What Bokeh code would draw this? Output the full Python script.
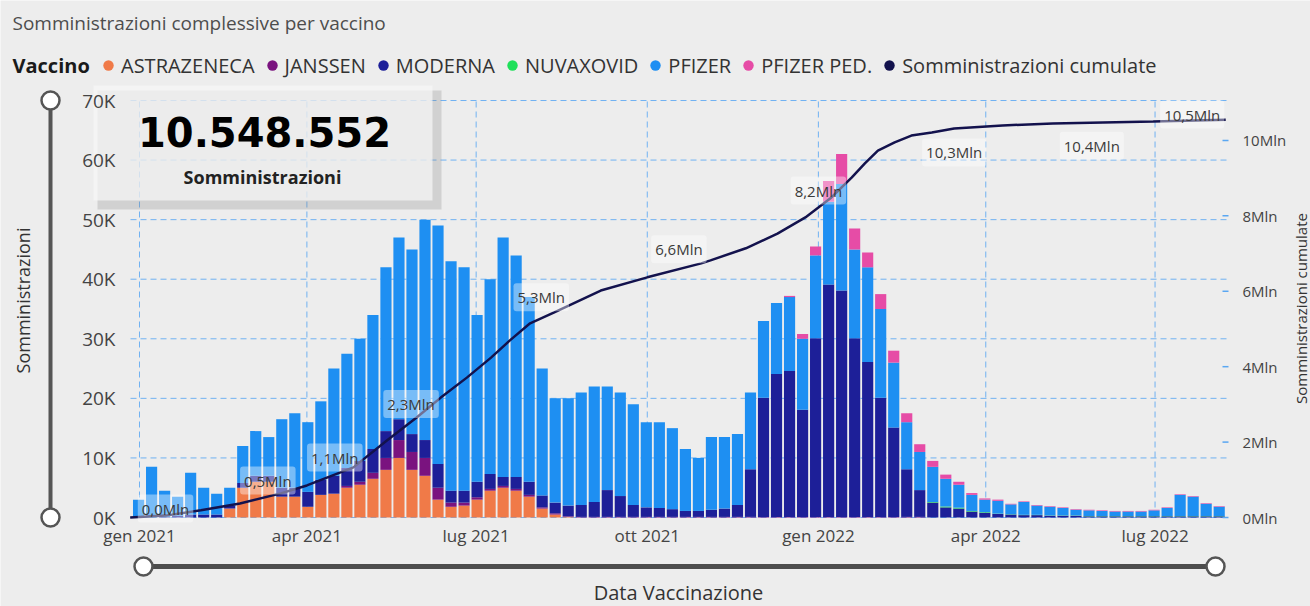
import math
import numpy as np
import pandas as pd
from bokeh.plotting import figure
from bokeh.models import Range1d, Legend, LegendItem, Label, ColumnDataSource
from bokeh.core.properties import value
from bokeh.embed import file_html
from bokeh.resources import INLINE

# ---------------- data (doses per day, one value per week) ----------------
vaccines = ["ASTRAZENECA", "JANSSEN", "MODERNA", "NUVAXOVID", "PFIZER", "PFIZER PED."]
week_start = pd.date_range("2020-12-28", periods=84, freq="7D")

astrazeneca = [0, 0, 0, 0, 0, 0, 0, 1500, 5000, 6000, 6000, 3500,
               3500, 1800, 3800, 4000, 5000, 5500, 6500, 8000, 10000, 8000, 7000, 3000,
               1800, 2000, 3000, 4500, 5000, 4500, 3500, 1500, 500, 100, 0, 0,
               0, 0, 0, 0, 0, 0, 0, 0, 0, 0, 0, 0,
               0, 0, 0, 0, 0, 0, 0, 0, 0, 0, 0, 0,
               0, 0, 0, 0, 0, 0, 0, 0, 0, 0, 0, 0,
               0, 0, 0, 0, 0, 0, 0, 0, 0, 0, 0, 0]
janssen = [0, 0, 0, 0, 0, 0, 0, 0, 0, 0, 0, 0,
           0, 0, 0, 0, 300, 500, 1000, 2000, 3000, 3000, 3000, 2000,
           700, 500, 400, 300, 300, 300, 300, 200, 200, 100, 100, 100,
           100, 100, 100, 100, 100, 100, 100, 100, 100, 100, 100, 100,
           100, 100, 100, 100, 100, 100, 100, 100, 100, 100, 100, 100,
           100, 0, 0, 0, 0, 0, 0, 0, 0, 0, 0, 0,
           0, 0, 0, 0, 0, 0, 0, 0, 0, 0, 0, 0]
moderna = [0, 0, 100, 300, 500, 500, 500, 500, 800, 1000, 1000, 1500,
           1500, 2500, 2500, 3000, 3000, 3500, 4000, 4500, 3500, 3000, 3000, 4000,
           2000, 2000, 2600, 2500, 1500, 2000, 2200, 2000, 1800, 1800, 2000, 2500,
           4500, 3500, 2000, 1600, 1500, 1300, 1000, 1000, 1200, 1400, 2000, 8000,
           20000, 24000, 24500, 18000, 30000, 39000, 38000, 30000, 26000, 20000, 15000, 8000,
           4500, 2500, 1700, 1500, 1000, 800, 600, 500, 400, 400, 300, 300,
           300, 200, 200, 200, 200, 200, 200, 200, 200, 200, 200, 200]
nuvaxovid = [0, 0, 0, 0, 0, 0, 0, 0, 0, 0, 0, 0,
             0, 0, 0, 0, 0, 0, 0, 0, 0, 0, 0, 0,
             0, 0, 0, 0, 0, 0, 0, 0, 0, 0, 0, 0,
             0, 0, 0, 0, 0, 0, 0, 0, 0, 0, 0, 0,
             0, 0, 0, 0, 0, 0, 0, 0, 0, 0, 0, 0,
             0, 100, 150, 150, 100, 100, 50, 50, 50, 50, 50, 50,
             50, 50, 50, 50, 50, 50, 50, 50, 50, 50, 50, 50]
pfizer = [3000, 8500, 4400, 3200, 7000, 4500, 3500, 3000, 6200, 7500, 6500, 11500,
          12500, 11700, 13200, 18000, 19200, 20500, 22500, 27500, 30500, 31000, 37000, 40000,
          38500, 37500, 28000, 32700, 40200, 37200, 31000, 21300, 17500, 18000, 18900, 19400,
          17400, 17400, 16900, 14300, 14400, 13600, 10400, 8900, 12200, 12000, 11900, 12900,
          12900, 11900, 12400, 11900, 13900, 13900, 17900, 14900, 15900, 14900, 10900, 7900,
          6400, 5900, 4650, 3850, 2700, 2100, 2150, 1650, 2150, 1550, 1450, 1250,
          950, 950, 850, 750, 750, 750, 950, 1350, 3550, 3250, 2050, 1550]
pfizer_ped = [0, 0, 0, 0, 0, 0, 0, 0, 0, 0, 0, 0,
              0, 0, 0, 0, 0, 0, 0, 0, 0, 0, 0, 0,
              0, 0, 0, 0, 0, 0, 0, 0, 0, 0, 0, 0,
              0, 0, 0, 0, 0, 0, 0, 0, 0, 0, 0, 0,
              0, 0, 200, 800, 1500, 3500, 5000, 3500, 2500, 2500, 2000, 1500,
              1300, 1000, 700, 500, 300, 200, 200, 100, 100, 100, 100, 100,
              100, 100, 100, 100, 100, 100, 100, 100, 100, 100, 100, 100]

# cumulative administrations (millions)
cum_dates = ["2020-12-27", "2021-01-15", "2021-02-03", "2021-02-24", "2021-03-18", "2021-04-01",
             "2021-04-26", "2021-05-14", "2021-05-30", "2021-06-12", "2021-06-26", "2021-07-09",
             "2021-07-19", "2021-07-30", "2021-08-12", "2021-09-06", "2021-10-01", "2021-10-30",
             "2021-11-04", "2021-11-23", "2021-12-10", "2021-12-25", "2022-01-01", "2022-01-08",
             "2022-01-19", "2022-01-26", "2022-02-02", "2022-02-11", "2022-02-20", "2022-03-03",
             "2022-03-15", "2022-04-10", "2022-05-07", "2022-06-30", "2022-08-08"]
cum_values = [0.0, 0.05, 0.19, 0.37, 0.64, 0.85,
              1.33, 2.04, 2.65, 3.18, 3.71, 4.24,
              4.69, 5.15, 5.44, 6.02, 6.37, 6.74,
              6.82, 7.14, 7.53, 7.96, 8.22, 8.49,
              9.02, 9.39, 9.73, 9.95, 10.13, 10.21,
              10.32, 10.40, 10.45, 10.50, 10.55]

cum_label_dates = ["2021-01-15", "2021-03-11", "2021-04-16", "2021-05-27", "2021-08-05",
                   "2021-10-18", "2022-01-01", "2022-03-15", "2022-05-28", "2022-07-21"]
cum_label_texts = ["0,0Mln", "0,5Mln", "1,1Mln", "2,3Mln", "5,3Mln",
                   "6,6Mln", "8,2Mln", "10,3Mln", "10,4Mln", "10,5Mln"]

x_tick_dates = ["2021-01-01", "2021-04-01", "2021-07-01", "2021-10-01",
                "2022-01-01", "2022-04-01", "2022-07-01"]
x_tick_labels = ["gen 2021", "apr 2021", "lug 2021", "ott 2021",
                 "gen 2022", "apr 2022", "lug 2022"]
y_ticks = [0, 10000, 20000, 30000, 40000, 50000, 60000, 70000]
y_tick_labels = ["0K", "10K", "20K", "30K", "40K", "50K", "60K", "70K"]
y2_ticks = [0, 2000000, 4000000, 6000000, 8000000, 10000000]
y2_tick_labels = ["0Mln", "2Mln", "4Mln", "6Mln", "8Mln", "10Mln"]
total_doses = "10.548.552"
title_text = "Somministrazioni complessive per vaccino"

# ---------------- styles / geometry ----------------
colors = ["#F07A48", "#7A137F", "#1D1F98", "#1FE05A", "#1E8FF2", "#E64CA6"]
cum_color = "#13124D"
grid_color = "#5AA7F2"
BG = "#EDEDED"
FONT = "Open Sans"
W, H = 1310, 606
DAY = 86400000.0
# plot area inside the canvas (pixels, y from top)
PL, PR, PT, PB = 130, 1228, 100, 517


def ms(d):
    return pd.Timestamp(d).value / 1e6


x_start = ms("2021-01-01") - 4.84 * DAY
x_end = ms("2021-01-01") + 585.5 * DAY
Y_MAX = 70000.0
C_MAX = 11.06e6

kx = (x_end - x_start) / (PR - PL)
ky = Y_MAX / (PB - PT)
kc = C_MAX / (PB - PT)

p = figure(width=W, height=H, output_backend="svg", toolbar_location=None,
           x_axis_type=None, y_axis_type=None, min_border=0,
           x_range=Range1d(x_start - PL * kx, x_end + (W - PR) * kx),
           y_range=Range1d(-(H - PB) * ky, Y_MAX + PT * ky))
p.extra_x_ranges = {"px": Range1d(0, W)}
p.extra_y_ranges = {"px": Range1d(H, 0),
                    "cum": Range1d(-(H - PB) * kc, C_MAX + PT * kc)}
p.background_fill_color = BG
p.border_fill_color = BG
p.outline_line_color = None


def txt(x, y, text, size, color="#333333", align="left", baseline="middle",
        style="normal", font=FONT, angle=0.0, xr="px", yr="px"):
    p.text(x=x, y=y, text=text, x_range_name=xr, y_range_name=yr,
           text_font=value(font), text_font_size=value(size), text_font_style=style,
           text_color=color, text_align=align, text_baseline=baseline, angle=angle)


# ---------------- dashed grid ----------------
xt = [ms(d) for d in x_tick_dates]
p.segment(x0=[x_start] * len(y_ticks), x1=[x_end] * len(y_ticks), y0=y_ticks, y1=y_ticks,
          line_color=grid_color, line_dash="6 4", line_width=1, line_alpha=0.85)
p.segment(x0=xt, x1=xt, y0=[0] * len(xt), y1=[Y_MAX] * len(xt),
          line_color=grid_color, line_dash="6 4", line_width=1, line_alpha=0.85)

# ---------------- card (under the bars) ----------------
p.quad(left=[97], right=[441], top=[90], bottom=[209], x_range_name="px", y_range_name="px",
       fill_color="#8A8A8A", fill_alpha=0.28, line_color=None)
p.quad(left=[93], right=[432], top=[85], bottom=[200], x_range_name="px", y_range_name="px",
       fill_color="#F7F7F7", fill_alpha=0.72, line_color=None)

# ---------------- stacked bars ----------------
keys = ["astrazeneca", "janssen", "moderna", "nuvaxovid", "pfizer", "pfizer_ped"]
src = ColumnDataSource(dict(
    x=[ms(d) + 3.5 * DAY for d in week_start],
    astrazeneca=astrazeneca, janssen=janssen, moderna=moderna,
    nuvaxovid=nuvaxovid, pfizer=pfizer, pfizer_ped=pfizer_ped))
p.vbar_stack(keys, x="x", width=6.0 * DAY, fill_color=colors, line_color=None, source=src)

# ---------------- cumulative line ----------------
cum_x = [ms(d) for d in cum_dates]
cum_y = [v * 1e6 for v in cum_values]
p.line(x=cum_x, y=cum_y, y_range_name="cum", line_color=cum_color, line_width=2.5)

label_offsets = [7, 16, 17, 18, 21, 20, 17, -24, -23, 6]
for d, t, off in zip(cum_label_dates, cum_label_texts, label_offsets):
    lx = ms(d)
    ly = float(np.interp(lx, cum_x, cum_y))
    p.add_layout(Label(x=lx, y=ly, y_range_name="cum", text=t, y_offset=off,
                       text_align="center", text_baseline="middle", text_font=FONT,
                       text_font_size="15px", text_color="#3A3A3A",
                       background_fill_color="white", background_fill_alpha=0.4,
                       padding=4, border_radius=3))

# ---------------- axes (tick labels and titles) ----------------
txt([PL - 15] * len(y_ticks), y_ticks, y_tick_labels, "19px", color="#444444",
    align="right", yr="default")
txt(xt, [535] * len(xt), x_tick_labels, "17px", color="#444444", align="center",
    xr="default")
txt([PR + 14] * len(y2_ticks), y2_ticks, y2_tick_labels, "15px", color="#444444",
    yr="cum")
p.segment(x0=[PR - 6] * len(y2_ticks), x1=[PR] * len(y2_ticks), y0=y2_ticks, y1=y2_ticks,
          x_range_name="px", y_range_name="cum", line_color=grid_color, line_width=1.5)
txt([22], [300], ["Somministrazioni"], "18px", align="center", angle=math.pi / 2)
txt([1300], [308], ["Somministrazioni cumulate"], "15px", align="center", angle=math.pi / 2)
txt([678], [592], ["Data Vaccinazione"], "20px", align="center")

# ---------------- title, legend ----------------
txt([12], [22], [title_text], "19px", color="#4D4D4D")
txt([12], [65], ["Vaccino"], "20px", color="#1A1A1A", style="bold")

legend_items = []
for name, col in zip(vaccines + ["Somministrazioni cumulate"], colors + [cum_color]):
    r = p.scatter(x=[np.nan], y=[np.nan], marker="circle", size=11,
                  fill_color=col, line_color=None)
    legend_items.append(LegendItem(label=name, renderers=[r]))
legend = Legend(items=legend_items, location=(95, H - 78.5), orientation="horizontal",
                glyph_width=26, glyph_height=26, label_standoff=0, spacing=4,
                padding=0, margin=0, label_text_font=FONT, label_text_font_size="20px",
                label_text_color="#333333", background_fill_alpha=0,
                border_line_color=None)
p.add_layout(legend)

# ---------------- card texts ----------------
txt([264], [131], [total_doses], "40px", color="#000000", align="center",
    style="bold", font="DejaVu Sans")
txt([262], [176], ["Somministrazioni"], "18px", color="#222222", align="center",
    style="bold")

# ---------------- slider decorations ----------------
p.segment(x0=[50], x1=[50], y0=[100], y1=[517], x_range_name="px", y_range_name="px",
          line_color="#555555", line_width=4)
p.segment(x0=[143], x1=[1215], y0=[566], y1=[566], x_range_name="px", y_range_name="px",
          line_color="#4D4D4D", line_width=5)
p.scatter(x=[50, 50, 143, 1215], y=[100, 517, 566, 566], x_range_name="px", y_range_name="px",
          marker="circle", size=18, fill_color="white", line_color="#555555", line_width=2.5)

open("out.html", "w").write(file_html(p, INLINE))
